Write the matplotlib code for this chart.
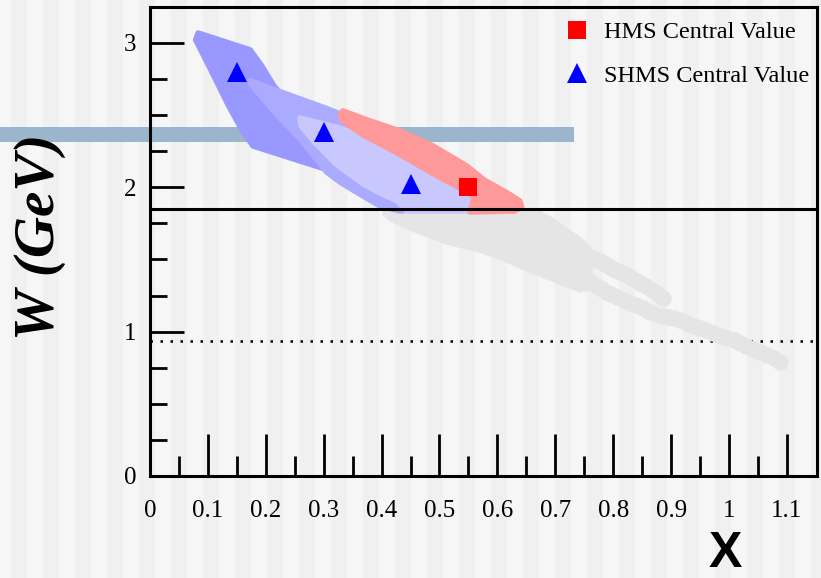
import matplotlib
matplotlib.use("Agg")
import matplotlib.pyplot as plt
from matplotlib.lines import Line2D
from matplotlib.patches import Rectangle
import numpy as np

plt.rcParams['font.family'] = ['Liberation Serif', 'DejaVu Serif']

# --- kinematic coverage, outlines (x, W in GeV) ---
# SHMS setting 1 (darkest blue)
shms1_x = [0.083, 0.173, 0.193, 0.214, 0.311, 0.297, 0.178, 0.159, 0.135, 0.107, 0.079]
shms1_w = [3.069, 2.952, 2.841, 2.702, 2.259, 2.134, 2.286, 2.397, 2.571, 2.799, 3.021]
# SHMS setting 2 (medium blue)
shms2_x = [0.173, 0.307, 0.337, 0.466, 0.570, 0.432, 0.397, 0.356, 0.328, 0.305, 0.261, 0.216, 0.174]
shms2_w = [2.737, 2.543, 2.494, 2.265, 1.900, 1.836, 1.871, 1.968, 2.037, 2.106, 2.328, 2.515, 2.716]
# SHMS setting 3 (light blue)
shms3_x = [0.259, 0.328, 0.397, 0.561, 0.566, 0.556, 0.444, 0.427, 0.397, 0.368, 0.340, 0.321, 0.306, 0.282, 0.261]
shms3_w = [2.480, 2.411, 2.307, 1.947, 1.871, 1.836, 1.836, 1.905, 1.961, 2.023, 2.106, 2.162, 2.224, 2.321, 2.425]
# HMS (red)
hms_band_x = [0.333, 0.375, 0.432, 0.489, 0.547, 0.577, 0.617, 0.639, 0.642, 0.630, 0.553,
              0.560, 0.535, 0.484, 0.427, 0.368, 0.335, 0.328]
hms_band_w = [2.529, 2.467, 2.390, 2.286, 2.148, 2.051, 1.961, 1.905, 1.864, 1.836, 1.829,
              1.933, 1.995, 2.106, 2.238, 2.363, 2.453, 2.494]
# below the W cut (grey): solid body + streaks of points
cut_body_x = [0.406, 0.665, 0.696, 0.720, 0.743, 0.760, 0.760, 0.743, 0.686, 0.644, 0.617,
              0.570, 0.513, 0.454, 0.420, 0.406]
cut_body_w = [1.829, 1.836, 1.767, 1.698, 1.635, 1.566, 1.303, 1.289, 1.379, 1.448, 1.497,
              1.566, 1.621, 1.711, 1.774, 1.815]
cut_pts_x = [0.760, 0.769, 0.777, 0.786, 0.794, 0.803, 0.812, 0.820, 0.829, 0.838, 0.846, 0.857, 0.867, 0.877, 0.886,
             0.756, 0.764, 0.772, 0.780, 0.787, 0.797, 0.806, 0.818, 0.829, 0.840, 0.851, 0.860, 0.869, 0.884,
             0.895, 0.905, 0.916, 0.927, 0.939, 0.950, 0.961, 0.972, 0.984, 0.996, 1.008, 1.019, 1.030,
             1.041, 1.053, 1.065, 1.077, 1.088]
cut_pts_w = [1.517, 1.505, 1.490, 1.470, 1.448, 1.430, 1.413, 1.396, 1.379, 1.358, 1.337, 1.313, 1.289, 1.262, 1.233,
             1.358, 1.337, 1.316, 1.295, 1.275, 1.258, 1.240, 1.220, 1.199, 1.182, 1.164, 1.146, 1.129, 1.109,
             1.102, 1.095, 1.078, 1.060, 1.042, 1.025, 1.008, 0.991, 0.973, 0.956, 0.939, 0.922, 0.901,
             0.880, 0.859, 0.838, 0.814, 0.790]

# central values
shms_x = [0.15, 0.30, 0.45]
shms_w = [2.80, 2.38, 2.02]
hms_x = [0.55]
hms_w = [2.00]

w_cut = 1.85
proton_mass = 0.938
band_lo, band_hi, band_x_end = 2.314, 2.418, 0.732

x_ticks = [0, 0.1, 0.2, 0.3, 0.4, 0.5, 0.6, 0.7, 0.8, 0.9, 1.0, 1.1]
x_labels = ['0', '0.1', '0.2', '0.3', '0.4', '0.5', '0.6', '0.7', '0.8', '0.9', '1', '1.1']
y_ticks = [0, 1, 2, 3]

fig = plt.figure(figsize=(8.21, 5.78), dpi=100)
fig.patch.set_facecolor('#f6f6f6')
# faint vertical stripes of the background
for k in range(-1, 27):
    x0 = (11 + 32 * k) / 821
    fig.patches.append(Rectangle((x0, 0), 16 / 821, 1, transform=fig.transFigure,
                                 facecolor='#f0f0f0', edgecolor='none', zorder=-5))

ax = fig.add_axes([150 / 821, 1 - 476 / 578, 667 / 821, 469 / 578])
ax.set_zorder(1)
ax.patch.set_visible(False)
ax.set_xlim(0, 1.152)
ax.set_ylim(0, 3.249)

ax.axhspan(band_lo, band_hi, xmin=-0.2249, xmax=band_x_end / 1.152, color='#9bb5cc',
           lw=0, clip_on=False, zorder=0.5)

ax.axhline(proton_mass, color='black', lw=1.8, linestyle=(0, (1, 3)), zorder=1)

ax.fill(cut_body_x, cut_body_w, color='#e5e5e5', lw=4, ec='#e5e5e5', joinstyle='round', zorder=2)
ax.scatter(cut_pts_x, cut_pts_w, s=140, color='#e5e5e5', lw=0, zorder=2)
ax.fill(shms1_x, shms1_w, color='#9898ff', lw=4, ec='#9898ff', joinstyle='round', zorder=2.1)
ax.fill(shms2_x, shms2_w, color='#aaaaff', lw=4, ec='#aaaaff', joinstyle='round', zorder=2.2)
ax.fill(shms3_x, shms3_w, color='#c8c8ff', lw=4, ec='#c8c8ff', joinstyle='round', zorder=2.3)
ax.fill(hms_band_x, hms_band_w, color='#ff9999', lw=4, ec='#ff9999', joinstyle='round', zorder=2.4)

ax.axhline(w_cut, color='black', lw=2.2, zorder=3)

ax.plot(shms_x, shms_w, '^', color='blue', ms=14.5, mew=0, zorder=4)
ax.plot(hms_x, hms_w, 's', color='red', ms=13, mew=0, zorder=4)

for sp in ax.spines.values():
    sp.set_linewidth(2.2)

ax.set_xticks(x_ticks)
ax.set_xticklabels(x_labels)
ax.set_xticks(np.arange(0.05, 1.15, 0.1), minor=True)
ax.set_yticks(y_ticks)
ax.set_yticks(np.arange(0.25, 3.25, 0.25), minor=True)
ax.tick_params(axis='x', which='major', direction='in', length=30, width=2, pad=17, labelsize=18)
ax.tick_params(axis='x', which='minor', direction='in', length=14.5, width=2)
ax.tick_params(axis='y', which='major', direction='in', length=24.5, width=2, pad=10, labelsize=18)
ax.tick_params(axis='y', which='minor', direction='in', length=12, width=2)

fig.text(40 / 821, 1 - 237 / 578, 'W (GeV)', rotation=90, ha='center', va='center',
         fontsize=41, fontweight='bold', fontstyle='italic')
fig.text(725 / 821, 1 - 567 / 578, 'X', ha='center', va='baseline', fontsize=36,
         fontweight='bold', family='Liberation Sans')

handles = [Line2D([], [], marker='s', color='red', ls='none', ms=13, mew=0),
           Line2D([], [], marker='^', color='blue', ls='none', ms=15, mew=0)]
ax.legend(handles, ['HMS Central Value', 'SHMS Central Value'], loc='upper left',
          bbox_to_anchor=(565 / 821, 1 - 21 / 578), bbox_transform=fig.transFigure,
          frameon=False, fontsize=17.5, handlelength=1.0, handletextpad=0.6,
          labelspacing=0.9, borderpad=0, borderaxespad=0)

fig.savefig('out.png', dpi=100, facecolor=fig.get_facecolor())
